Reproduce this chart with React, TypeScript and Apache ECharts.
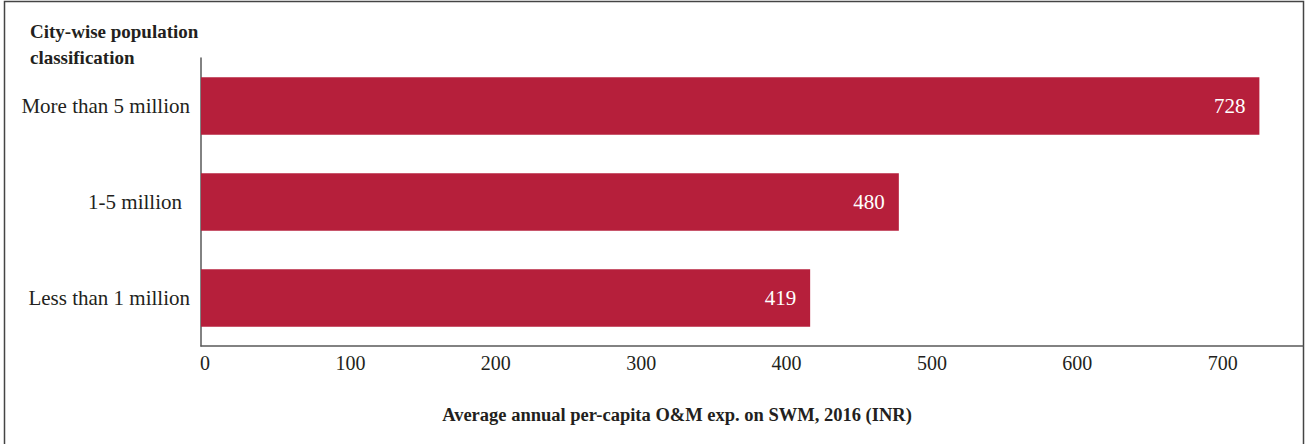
import React, { useEffect, useRef } from "react";
import * as echarts from "echarts";

const categories = ["More than 5 million", "1-5 million", "Less than 1 million"];
const values = [728, 480, 419];
const titleLines = ["City-wise population", "classification"];
const xAxisTitle = "Average annual per-capita O&M exp. on SWM, 2016 (INR)";
const xMin = 0;
const xMax = 758;
const xInterval = 100;

const FONT = "Liberation Serif, DejaVu Serif, serif";
const TEXT = "#231f20";
const BAR = "#b61f3b";

export default function App() {
  const ref = useRef<HTMLDivElement>(null);
  useEffect(() => {
    document.body.style.margin = "0";
    if (!ref.current) return;
    const chart = echarts.init(ref.current, null, { renderer: "svg" });
    chart.setOption({
      animation: false,
      backgroundColor: "#ffffff",
      grid: { left: 201, right: 3, top: 58, bottom: 98, containLabel: false },
      xAxis: {
        type: "value",
        min: xMin,
        max: xMax,
        interval: xInterval,
        splitLine: { show: false },
        axisTick: { show: false },
        axisLine: { show: true, lineStyle: { color: "#595959", width: 1.5 } },
        axisLabel: {
          showMaxLabel: false,
          margin: 7,
          padding: [0, 0, 0, 8],
          color: TEXT,
          fontFamily: FONT,
          fontSize: 20,
        },
      },
      yAxis: {
        type: "category",
        inverse: true,
        data: categories.map((c, i) =>
          i === 1 ? { value: c, textStyle: { padding: [0, 8, 0, 0] } } : c
        ),
        axisTick: { show: false },
        axisLine: { show: true, lineStyle: { color: "#595959", width: 1.5 } },
        axisLabel: {
          margin: 11,
          color: TEXT,
          fontFamily: FONT,
          fontSize: 21,
        },
      },
      series: [
        {
          type: "bar",
          data: values,
          barCategoryGap: "40%",
          itemStyle: { color: BAR },
          label: {
            show: true,
            position: "insideRight",
            distance: 14,
            color: "#ffffff",
            fontFamily: FONT,
            fontSize: 21,
          },
        },
      ],
      graphic: [
        {
          type: "rect",
          shape: { x: 4.5, y: 1.5, width: 1299, height: 460 },
          style: { fill: "none", stroke: "#444444", lineWidth: 1.5 },
          silent: true,
        },
        {
          type: "text",
          x: 30,
          y: 31,
          style: {
            text: titleLines[0],
            fill: TEXT,
            fontFamily: FONT,
            fontWeight: "bold",
            fontSize: 19,
            textAlign: "left",
            textVerticalAlign: "middle",
          },
        },
        {
          type: "text",
          x: 30,
          y: 57,
          style: {
            text: titleLines[1],
            fill: TEXT,
            fontFamily: FONT,
            fontWeight: "bold",
            fontSize: 19,
            textAlign: "left",
            textVerticalAlign: "middle",
          },
        },
        {
          type: "text",
          x: 677,
          y: 415,
          style: {
            text: xAxisTitle,
            fill: TEXT,
            fontFamily: FONT,
            fontWeight: "bold",
            fontSize: 18.5,
            textAlign: "center",
            textVerticalAlign: "middle",
          },
        },
      ],
    });
    return () => chart.dispose();
  }, []);
  return <div ref={ref} style={{ width: 1306, height: 444 }} />;
}
